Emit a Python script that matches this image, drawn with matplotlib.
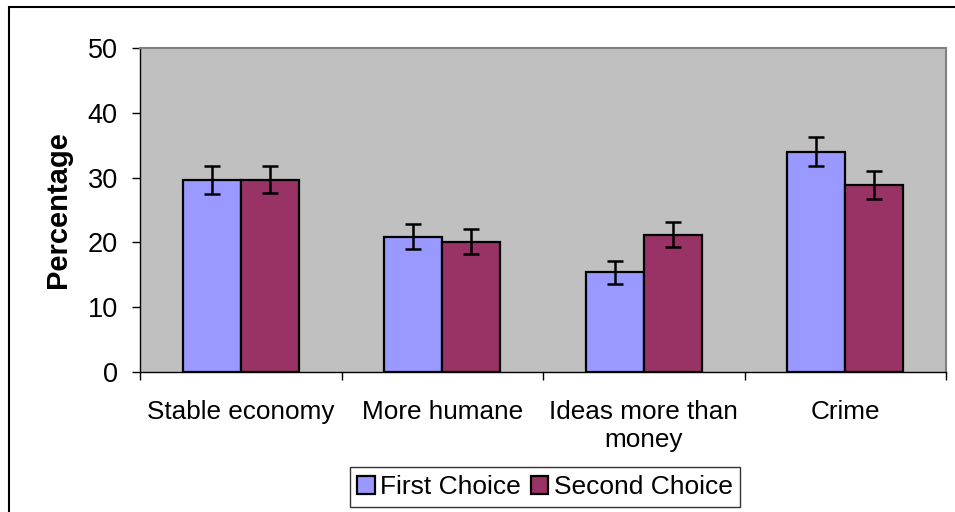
import matplotlib
matplotlib.use("Agg")
import matplotlib.pyplot as plt
import numpy as np
from matplotlib.patches import Rectangle

categories = ["Stable economy", "More humane", "Ideas more than\nmoney", "Crime"]
first_choice = [29.6, 20.9, 15.4, 34.0]
second_choice = [29.7, 20.1, 21.2, 28.8]
first_err = [2.15, 1.9, 1.8, 2.25]
second_err = [2.15, 1.9, 1.95, 2.15]
series_names = ["First Choice", "Second Choice"]
yticks = [0, 10, 20, 30, 40, 50]

plt.rcParams['font.family'] = ['Liberation Sans', 'DejaVu Sans']

fig = plt.figure(figsize=(9.55, 5.12), dpi=100)
ax = fig.add_axes([140/955, 1-372/512, (946-140)/955, (372-48)/512])
ax.set_facecolor('#C0C0C0')

x = np.arange(len(categories))
w = 0.288
err_kw = dict(ecolor='black', elinewidth=1.8, capsize=6, capthick=1.8)
ax.bar(x - w/2, first_choice, w, color='#9999FF', edgecolor='black', linewidth=1.6,
       yerr=first_err, error_kw=err_kw, label=series_names[0], zorder=2)
ax.bar(x + w/2, second_choice, w, color='#993366', edgecolor='black', linewidth=1.6,
       yerr=second_err, error_kw=err_kw, label=series_names[1], zorder=2)

ax.set_xlim(-0.5, len(categories) - 0.5)
ax.set_ylim(0, 50)
ax.set_yticks(yticks)
ax.set_yticklabels([str(t) for t in yticks], fontsize=19.5)
ax.set_xticks(np.arange(len(categories) + 1) - 0.5)
ax.set_xticklabels([])
ax.set_xticks(x, minor=True)
ax.set_xticklabels(categories, minor=True, fontsize=18.8, linespacing=1.2)
ax.tick_params(axis='x', which='minor', length=0, pad=20)
ax.tick_params(axis='x', which='major', length=6, width=1, color='black', direction='out')
ax.tick_params(axis='y', length=6, width=1, direction='out', pad=10)

for s in ['top', 'right']:
    ax.spines[s].set_color('#808080')
    ax.spines[s].set_linewidth(1.5)
for s in ['left', 'bottom']:
    ax.spines[s].set_color('black')
    ax.spines[s].set_linewidth(1)

ax.set_ylabel("Percentage", fontsize=21, fontweight='bold', labelpad=11)

leg = ax.legend(loc='center', bbox_to_anchor=(545/955, 1-487/512), bbox_transform=fig.transFigure,
                ncol=2, fontsize=19, frameon=True, fancybox=False, edgecolor='black',
                handlelength=0.65, handleheight=0.65, handletextpad=0.2, columnspacing=0.4,
                borderpad=0.3, borderaxespad=0)
leg.get_frame().set_linewidth(1)

fig.patches.append(Rectangle((9/955, -0.1), 1.0, 1-7/512+0.1, transform=fig.transFigure,
                             fill=False, edgecolor='black', linewidth=1.5))

fig.savefig("out.png", dpi=100)
